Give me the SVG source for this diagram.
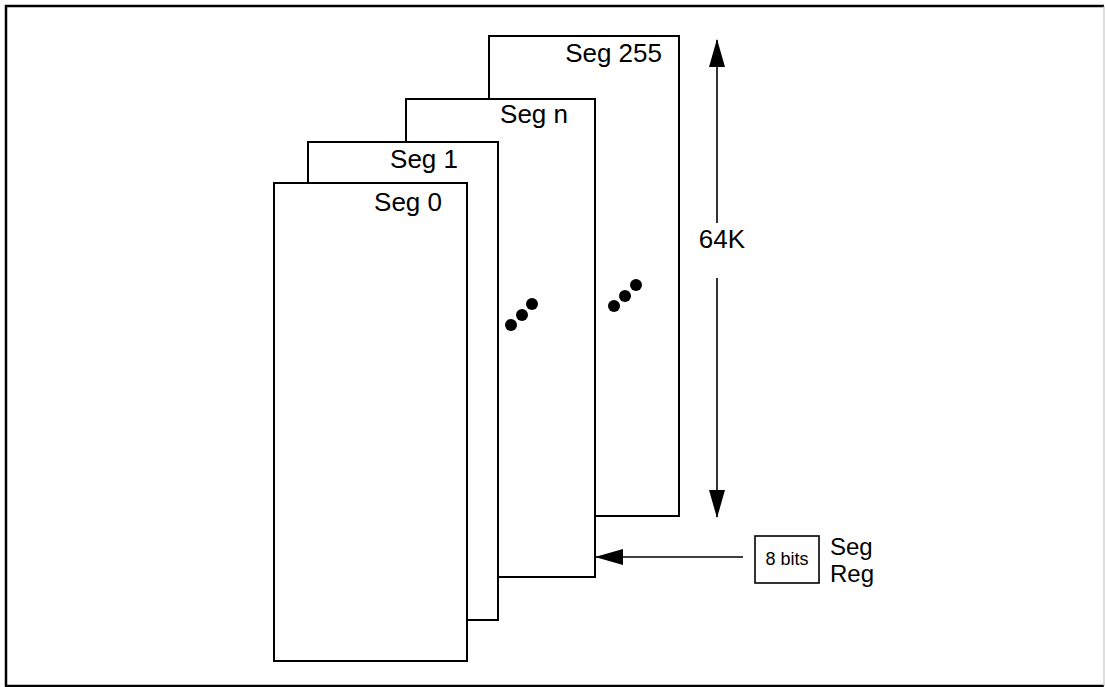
<svg xmlns="http://www.w3.org/2000/svg" width="1105" height="687" viewBox="0 0 1105 687">
<style>
.seg{fill:#fff;stroke:#000;stroke-width:2}
.lbl{font-family:"Liberation Sans",Arial,sans-serif;font-size:26px;fill:#000}
.ln{stroke:#000;stroke-width:1.6;fill:none}
.dot{fill:#000}
</style>
<defs>
<marker id="ah" markerWidth="28" markerHeight="16" refX="27" refY="8" orient="auto" markerUnits="userSpaceOnUse">
<path d="M0,0 L28,8 L0,16 Z" fill="#000"/>
</marker>
</defs>
<rect x="0" y="0" width="1105" height="687" fill="#fff"/>
<path d="M1104,6 L6,6 L6,686 L1104,686" fill="none" stroke="#000" stroke-width="2.5"/>
<line x1="1104" y1="6" x2="1104" y2="686" stroke="#bbb" stroke-width="1"/>
<g id="seg255"><rect class="seg" x="489" y="36" width="190" height="480"/><text class="lbl" x="662" y="62" text-anchor="end">Seg 255</text></g>
<g id="segn"><rect class="seg" x="406" y="99" width="189" height="478"/><text class="lbl" x="568" y="123" text-anchor="end">Seg n</text></g>
<g id="seg1"><rect class="seg" x="308" y="142" width="190" height="478"/><text class="lbl" x="458" y="168" text-anchor="end">Seg 1</text></g>
<g id="seg0"><rect class="seg" x="274" y="183" width="193" height="478"/><text class="lbl" x="442" y="211" text-anchor="end">Seg 0</text></g>
<g id="dots1"><circle class="dot" cx="511" cy="325" r="6"/><circle class="dot" cx="522" cy="315" r="6"/><circle class="dot" cx="532" cy="304" r="6"/></g>
<g id="dots2"><circle class="dot" cx="614" cy="306" r="6"/><circle class="dot" cx="625" cy="296" r="6"/><circle class="dot" cx="636" cy="285" r="6"/></g>
<g id="segreg"><rect x="755" y="536" width="64" height="47" fill="#fff" stroke="#000" stroke-width="1.6"/><text x="787" y="565" text-anchor="middle" style="font-family:'Liberation Sans',Arial,sans-serif;font-size:18px">8 bits</text><text class="lbl" x="830" y="555" style="font-size:24px">Seg</text><text class="lbl" x="830" y="582" style="font-size:24px">Reg</text></g>
<g id="size"><text class="lbl" x="722" y="248" text-anchor="middle">64K</text></g>
<g id="connectors">
<line class="ln" x1="717" y1="223" x2="717" y2="40" marker-end="url(#ah)"/>
<line class="ln" x1="717" y1="278" x2="717" y2="517" marker-end="url(#ah)"/>
<line class="ln" x1="743" y1="557" x2="596" y2="557" marker-end="url(#ah)"/>
</g>
</svg>
